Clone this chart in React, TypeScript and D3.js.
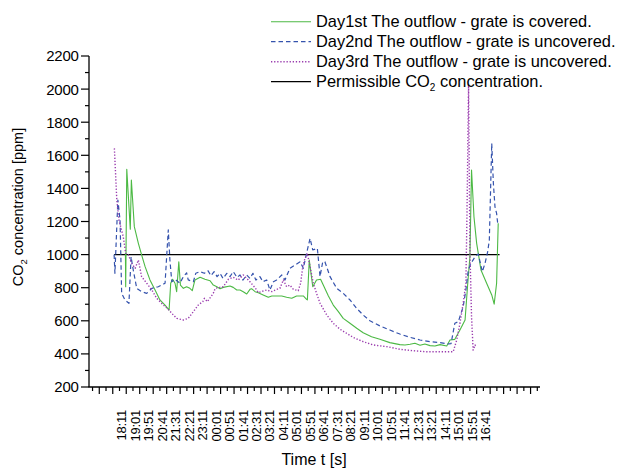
import React from 'react';
import * as d3 from 'd3';

// minutes after 17:58, CO2 [ppm]
const day1: [number, number][] = [
  [10, 1008], [11, 806], [15, 1515], [28, 1153], [32, 1451], [43, 1169], [58, 1068], [70, 998], [83, 927],
  [101, 847], [120, 786], [138, 726], [157, 695], [172, 665], [178, 827], [185, 851], [194, 827], [200, 776],
  [208, 957], [214, 816], [225, 796], [237, 806], [249, 796], [258, 782], [268, 847], [287, 863], [305, 851],
  [324, 842], [336, 816], [349, 806], [361, 794], [373, 802], [398, 810], [410, 802], [423, 786], [435, 786],
  [447, 776], [460, 762], [472, 790], [478, 794], [491, 776], [503, 770], [521, 756], [540, 742], [553, 750],
  [571, 750], [590, 750], [608, 742], [627, 736], [645, 750], [658, 750], [670, 750], [682, 730], [685, 726],
  [692, 967], [705, 806], [719, 847], [734, 851], [744, 816], [763, 750], [781, 695], [800, 655], [818, 615],
  [843, 585], [868, 555], [892, 528], [923, 504], [954, 488], [991, 468], [1028, 456], [1047, 454], [1066, 458],
  [1084, 464], [1103, 452], [1121, 460], [1140, 450], [1158, 448], [1177, 456], [1202, 448], [1214, 484],
  [1232, 488], [1251, 544], [1270, 605], [1280, 827], [1288, 987], [1294, 1511], [1303, 1229], [1313, 1068],
  [1329, 907], [1350, 827], [1369, 756], [1378, 701], [1387, 827], [1393, 1189],
];

const day2: [number, number][] = [
  [-32, 1000], [-29, 887], [-18, 1330], [-10, 1209], [-4, 766], [8, 726], [23, 706], [31, 987], [39, 907],
  [52, 796], [70, 776], [89, 766], [108, 796], [132, 806], [157, 827], [169, 1149], [175, 967], [182, 836],
  [194, 851], [212, 827], [225, 867], [237, 890], [243, 847], [262, 836], [271, 887], [287, 897], [303, 887],
  [316, 903], [327, 873], [339, 897], [350, 867], [361, 887], [372, 856], [386, 887], [398, 867], [410, 897],
  [424, 862], [435, 877], [446, 846], [460, 877], [472, 856], [483, 887], [494, 846], [509, 867], [520, 836],
  [534, 847], [546, 786], [559, 836], [571, 847], [590, 877], [602, 847], [620, 917], [639, 937], [658, 957],
  [670, 917], [682, 1008], [695, 1098], [705, 1028], [722, 1038], [732, 867], [742, 957], [750, 957], [769, 867],
  [794, 796], [818, 766], [843, 726], [868, 675], [892, 635], [917, 600], [954, 569], [991, 544], [1028, 520],
  [1066, 500], [1103, 484], [1140, 474], [1177, 468], [1208, 460], [1218, 462], [1232, 585], [1245, 595],
  [1263, 685], [1273, 786], [1282, 907], [1292, 947], [1307, 987], [1319, 1004], [1334, 897], [1344, 947],
  [1354, 1018], [1360, 1088], [1369, 1672], [1375, 1431], [1381, 1289], [1387, 1249], [1391, 1189],
];

const day3: [number, number][] = [
  [-31, 1642], [-22, 1330], [-14, 1209], [2, 1108], [11, 1008], [21, 998], [33, 947], [46, 917], [58, 967],
  [70, 867], [89, 827], [108, 786], [126, 736], [151, 695], [169, 669], [182, 645], [200, 615], [225, 605],
  [243, 615], [262, 655], [280, 695], [297, 716], [303, 736], [314, 716], [336, 766], [343, 796], [373, 806],
  [392, 851], [410, 863], [428, 846], [447, 877], [460, 856], [472, 836], [491, 800], [503, 770], [521, 780],
  [534, 786], [553, 776], [571, 790], [583, 796], [596, 847], [608, 806], [620, 816], [633, 790], [651, 782],
  [660, 827], [668, 927], [676, 977], [685, 1008], [695, 927], [707, 827], [719, 766], [732, 706], [757, 635],
  [781, 585], [806, 549], [831, 524], [855, 500], [892, 474], [929, 454], [979, 444], [1028, 428], [1078, 419],
  [1127, 413], [1177, 413], [1226, 413], [1239, 484], [1251, 585], [1263, 706], [1273, 827], [1277, 1229],
  [1283, 2030], [1288, 1028], [1294, 625], [1300, 423], [1307, 454], [1310, 440],
];

const permissible: [number, number][] = [[-32, 1000], [1398, 1000]];

const timeLabels = [
  '18:11', '19:01', '19:51', '20:41', '21:31', '22:21', '23:11', '00:01', '00:51', '01:41',
  '02:31', '03:21', '04:11', '05:01', '05:51', '06:41', '07:31', '08:21', '09:11', '10:01',
  '10:51', '11:41', '12:31', '13:21', '14:11', '15:01', '15:51', '16:41',
];
const firstLabelMinute = 13;
const labelStep = 50;

const yTicks = d3.range(200, 2201, 200);
const yMinor = d3.range(300, 2200, 200);

const series = [
  { name: 'Day1st The outflow - grate is covered.', data: day1, color: '#4cb944', dash: null, width: 1.1 },
  { name: 'Day2nd The outflow - grate is uncovered.', data: day2, color: '#3553ad', dash: '4.5,3', width: 1.2 },
  { name: 'Day3rd The outflow - grate is uncovered.', data: day3, color: '#9a3cae', dash: '1.3,1.8', width: 1.4 },
];

const FONT = "'Liberation Sans', Arial, sans-serif";

export default function App() {
  const W = 617;
  const H = 469;
  const x = d3.scaleLinear().domain([-127, 1548]).range([88.5, 540]);
  const y = d3.scaleLinear().domain([200, 2200]).range([387, 56]);
  const line = d3.line<[number, number]>().x(d => x(d[0])).y(d => y(d[1]));

  const majorX = d3.range(firstLabelMinute - 2 * labelStep, 1548, labelStep);
  const minorX = d3.range(firstLabelMinute - 2.5 * labelStep, 1548, labelStep);

  const axisY = y(200);
  const axisX = x(-127) + 0.5;

  return (
    <svg width={W} height={H} style={{ position: 'absolute', left: 0, top: 0, background: '#fff' }} fontFamily={FONT}>
      {/* axes */}
      <line x1={axisX} x2={axisX} y1={y(2200)} y2={axisY} stroke="#000" strokeWidth={1.3} />
      <line x1={x(-127)} x2={x(1548)} y1={axisY} y2={axisY} stroke="#000" strokeWidth={1.3} />
      {yTicks.map(v => (
        <g key={'yt' + v}>
          <line x1={axisX - 8} x2={axisX} y1={y(v)} y2={y(v)} stroke="#000" strokeWidth={1.2} />
          <text x={78.5} y={y(v)} dy="0.36em" textAnchor="end" fontSize={15} letterSpacing={-0.3}>{v}</text>
        </g>
      ))}
      {yMinor.map(v => (
        <line key={'ym' + v} x1={axisX - 4} x2={axisX} y1={y(v)} y2={y(v)} stroke="#000" strokeWidth={1.2} />
      ))}
      {majorX.map(m => (
        <line key={'xt' + m} x1={x(m)} x2={x(m)} y1={axisY} y2={axisY + 7} stroke="#000" strokeWidth={1.2} />
      ))}
      {minorX.map(m => (
        <line key={'xm' + m} x1={x(m)} x2={x(m)} y1={axisY} y2={axisY + 4} stroke="#000" strokeWidth={1.2} />
      ))}
      {timeLabels.map((t, i) => {
        const px = x(firstLabelMinute + i * labelStep);
        return (
          <text key={t} transform={`translate(${px},410) rotate(-90)`} textAnchor="end" fontSize={13} letterSpacing={-0.2}>
            {t}
          </text>
        );
      })}

      {/* titles */}
      <text x={314} y={464.5} textAnchor="middle" fontSize={16}>Time t [s]</text>
      <text transform="translate(22.5,207) rotate(-90)" textAnchor="middle" fontSize={14.5}>
        CO<tspan fontSize={9.5} dy={4}>2</tspan><tspan dy={-4}> concentration [ppm]</tspan>
      </text>

      {/* data */}
      <path d={line(permissible) || ''} fill="none" stroke="#000" strokeWidth={1.2} />
      {series.map(s => (
        <path key={s.name} d={line(s.data) || ''} fill="none" stroke={s.color} strokeWidth={s.width}
          strokeDasharray={s.dash || undefined} strokeLinejoin="round" />
      ))}

      {/* legend */}
      {series.map((s, i) => (
        <g key={'lg' + i}>
          <line x1={271} x2={311} y1={21.7 + i * 20} y2={21.7 + i * 20} stroke={s.color} strokeWidth={s.width}
            strokeDasharray={s.dash || undefined} />
          <text x={316} y={26.8 + i * 20} fontSize={16.4}>{s.name}</text>
        </g>
      ))}
      <line x1={271} x2={311} y1={81.7} y2={81.7} stroke="#000" strokeWidth={1.2} />
      <text x={316} y={86.8} fontSize={16.4}>
        Permissible CO<tspan fontSize={10} dy={4}>2</tspan><tspan dy={-4}> concentration.</tspan>
      </text>
    </svg>
  );
}
